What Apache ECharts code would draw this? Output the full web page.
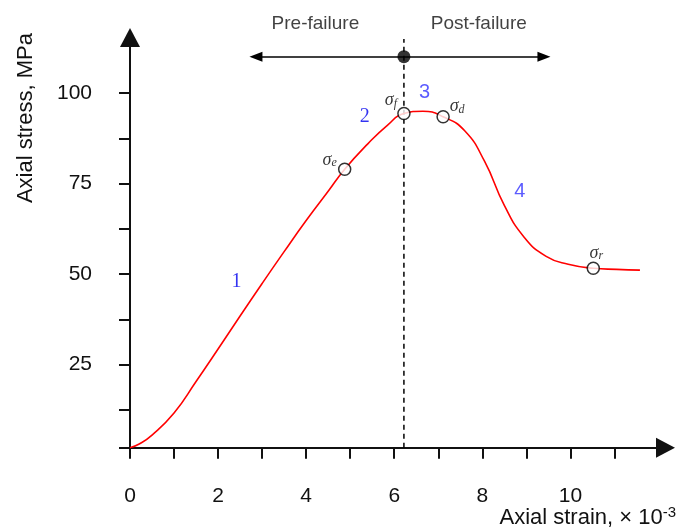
<!DOCTYPE html>
<html>
<head>
<meta charset="utf-8">
<script src="https://cdn.jsdelivr.net/npm/echarts@6/dist/echarts.min.js"></script>
<style>
  html, body { margin: 0; padding: 0; background: #fff; }
  #chart { width: 680px; height: 529px; }
</style>
</head>
<body>
<div id="chart"></div>
<script>
// Stress–strain curve (strain ×10⁻³, stress in MPa)
const strain = [0, 0.22, 0.5, 1.0, 1.5, 2.0, 2.5, 3.0, 3.5, 4.0, 4.5, 4.875, 5.4, 5.85, 6.22, 6.65, 7.11, 7.6, 8.05, 8.5, 8.95, 9.45, 9.95, 10.52, 11.05, 11.58];
const stress = [2, 3.1, 5.5, 11.6, 20.3, 29.3, 38.4, 47.4, 56.2, 64.8, 72.9, 79, 86.0, 91.2, 94.4, 95.0, 93.5, 89.6, 81.2, 69.0, 60.2, 54.9, 52.7, 51.6, 51.3, 51.1];

// Characteristic stresses marked on the curve
const markSubs = ['e', 'f', 'd', 'r'];
const markStrain = [4.875, 6.22, 7.11, 10.52];
const markStress = [79, 94.4, 93.5, 51.6];

// Stage numbers
const stageNames = ['1', '2', '3', '4'];
const stageStrain = [2.42, 5.33, 6.69, 8.85];
const stageStress = [47.8, 93.5, 100.1, 72.8];

// Failure divider and the pre/post arrow
const failureStrain = 6.22;
const dividerStress = [2, 115];
const arrowStress = 110.1;
const arrowStrain = [2.86, 9.40];
const phaseNames = ['Pre-failure', 'Post-failure'];
const phaseStrain = [4.21, 7.92];
const phaseStress = 119.1;

// Axis ticks and labels
const xTicks = [0, 1, 2, 3, 4, 5, 6, 7, 8, 9, 10, 11];
const xLabels = [0, 2, 4, 6, 8, 10];
const yTicks = [2, 12.5, 25, 37.5, 50, 62.5, 75, 87.5, 100];
const yLabels = [25, 50, 75, 100];

const FONT = 'Liberation Sans, Arial, sans-serif';
const SERIF = 'Liberation Serif, Times New Roman, serif';
const AXIS = '#111';

// label offsets (px) of the sigma tags relative to their points
const markOffsets = [[-15, -9], [-13, -13], [14, -10], [3, -15]];
const stageColors = ['#0000ee', '#0000ee', '#3333ff', '#3333ff'];
const stageFonts = [SERIF, SERIF, FONT, FONT];

const chart = echarts.init(document.getElementById('chart'), null, { renderer: 'canvas' });

const option = {
  animation: false,
  backgroundColor: '#fff',
  grid: { left: 130, right: 14.5, top: 37.5, bottom: 81.3, containLabel: false, outerBoundsMode: 'none' },
  xAxis: {
    type: 'value',
    min: 0,
    max: 12.16,
    name: 'Axial strain, × 10{sup|-3}',
    nameLocation: 'middle',
    nameGap: 58,
    nameMoveOverlap: false,
    nameTextStyle: {
      fontFamily: FONT, fontSize: 22, color: AXIS,
      padding: [0, 0, 0, 380],
      rich: { sup: { fontFamily: FONT, fontSize: 15, color: AXIS, verticalAlign: 'top', padding: [0, 0, 9, 0] } }
    },
    axisLine: { show: true, onZero: false, symbol: ['none', 'triangle'], symbolSize: [20, 19], lineStyle: { color: AXIS, width: 2 } },
    axisTick: { show: true, customValues: xTicks, length: 11, lineStyle: { color: AXIS, width: 2 } },
    axisLabel: { customValues: xLabels, margin: 38, fontFamily: FONT, fontSize: 21, color: AXIS },
    splitLine: { show: false }
  },
  yAxis: {
    type: 'value',
    min: 2,
    max: 115.4,
    name: 'Axial stress, MPa',
    nameLocation: 'middle',
    nameGap: 93,
    nameMoveOverlap: false,
    nameTextStyle: { fontFamily: FONT, fontSize: 22, color: AXIS, padding: [0, 0, 0, 249] },
    axisLine: { show: true, onZero: false, symbol: ['none', 'triangle'], symbolSize: [20, 19], lineStyle: { color: AXIS, width: 2 } },
    axisTick: { show: true, customValues: yTicks, length: 11, lineStyle: { color: AXIS, width: 2 } },
    axisLabel: { customValues: yLabels, margin: 38, fontFamily: FONT, fontSize: 21, color: AXIS },
    splitLine: { show: false }
  },
  series: [
    {
      // failure divider
      type: 'line',
      data: dividerStress.map(s => [failureStrain, s]),
      symbol: 'none',
      silent: true,
      lineStyle: { color: '#000', width: 1.5, type: [5, 4] },
      z: 1
    },
    {
      // stress–strain curve
      type: 'line',
      data: strain.map((x, i) => [x, stress[i]]),
      smooth: 0.5,
      symbol: 'none',
      silent: true,
      lineStyle: { color: '#ff0000', width: 1.6 },
      z: 2
    },
    {
      // characteristic stress points
      type: 'scatter',
      data: markStrain.map((x, i) => ({
        value: [x, markStress[i]],
        label: {
          show: true,
          position: 'inside',
          offset: markOffsets[i],
          formatter: '{s|σ}{sub|' + markSubs[i] + '}'
        }
      })),
      symbol: 'circle',
      symbolSize: 12,
      itemStyle: { color: '#fff', borderColor: '#000', borderWidth: 1.5 },
      label: {
        rich: {
          s: { fontFamily: SERIF, fontStyle: 'italic', fontSize: 18, color: '#000' },
          sub: { fontFamily: SERIF, fontStyle: 'italic', fontSize: 12, color: '#000', verticalAlign: 'bottom', padding: [6, 0, 0, 0] }
        }
      },
      silent: true,
      z: 5
    },
    {
      // stage numbers
      type: 'scatter',
      data: stageStrain.map((x, i) => ({
        value: [x, stageStress[i]],
        label: {
          show: true,
          position: 'inside',
          formatter: stageNames[i],
          color: stageColors[i],
          fontFamily: stageFonts[i],
          fontSize: 20
        }
      })),
      symbolSize: 1,
      itemStyle: { color: 'transparent' },
      silent: true,
      z: 4
    },
    {
      // failure point with pre/post-failure arrow
      type: 'scatter',
      data: [[failureStrain, arrowStress]],
      symbol: 'circle',
      symbolSize: 13,
      itemStyle: { color: '#000' },
      silent: true,
      z: 6,
      markLine: {
        silent: true,
        symbol: ['triangle', 'triangle'],
        symbolSize: [10, 13],
        label: { show: false },
        lineStyle: { color: '#000', width: 1.5, type: 'solid' },
        data: [[{ coord: [arrowStrain[0], arrowStress] }, { coord: [arrowStrain[1], arrowStress] }]]
      }
    },
    {
      // phase captions above the arrow
      type: 'scatter',
      clip: false,
      data: phaseStrain.map((x, i) => ({
        value: [x, phaseStress],
        label: { show: true, position: 'inside', formatter: phaseNames[i] }
      })),
      symbolSize: 1,
      itemStyle: { color: 'transparent' },
      label: { fontFamily: FONT, fontSize: 19, color: '#111' },
      silent: true,
      z: 4
    }
  ]
};

chart.setOption(option);
</script>
</body>
</html>
